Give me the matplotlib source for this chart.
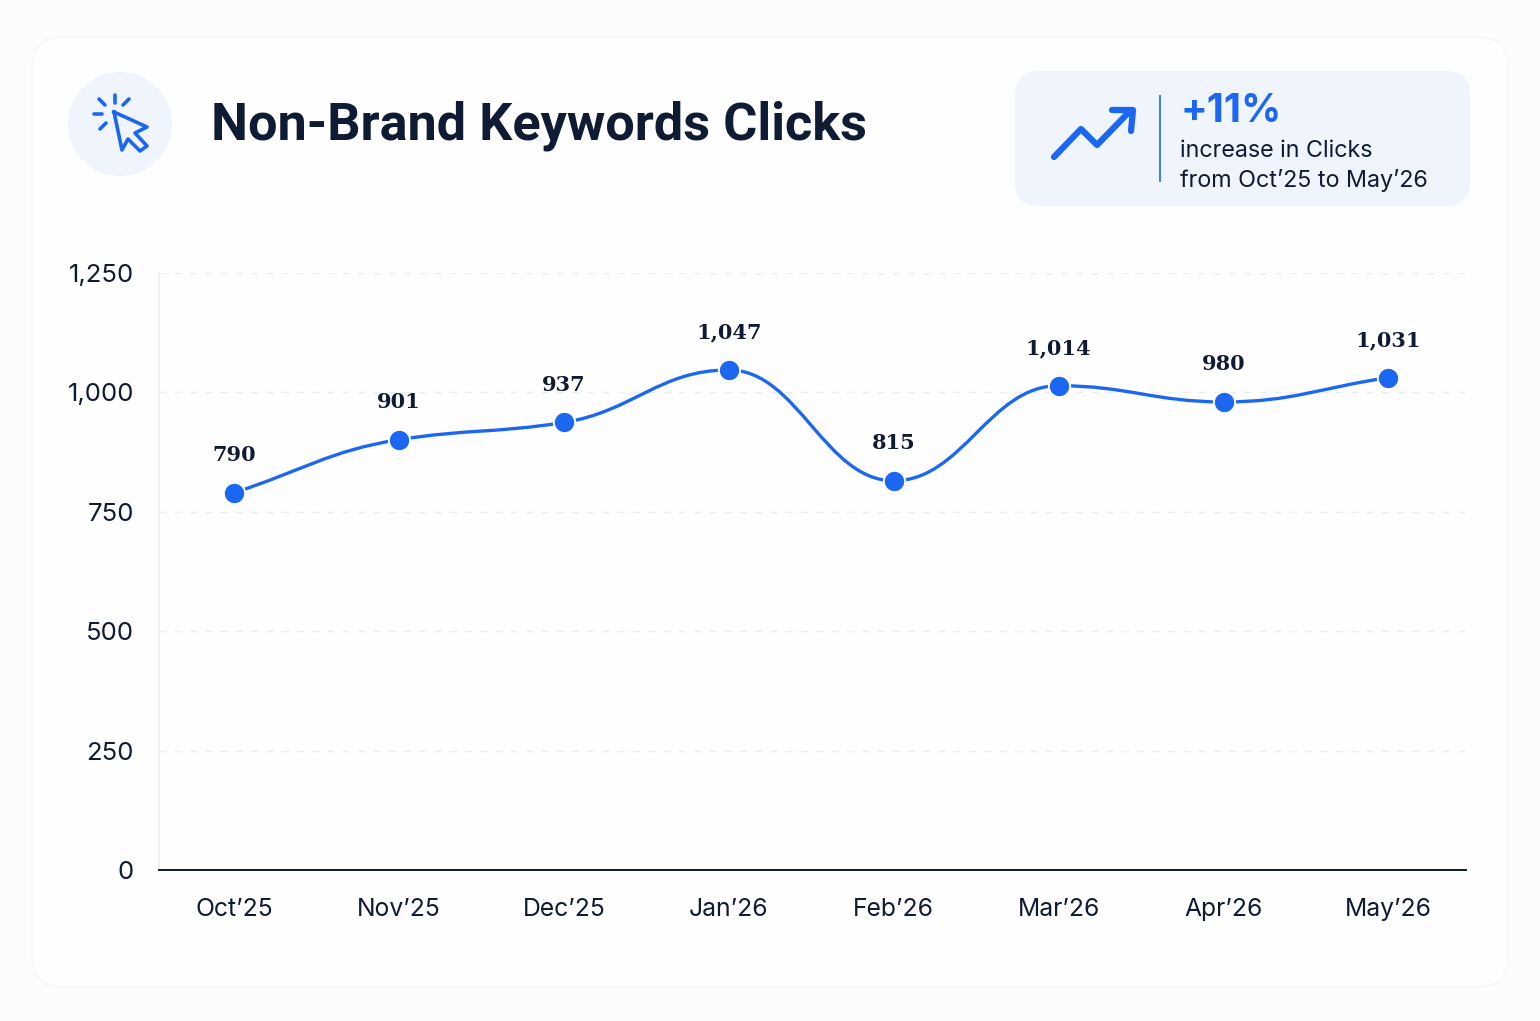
import matplotlib
matplotlib.use("Agg")
import matplotlib.pyplot as plt
import numpy as np
from matplotlib.patches import Circle, FancyBboxPatch, PathPatch
from matplotlib.path import Path

months = ["Oct’25", "Nov’25", "Dec’25", "Jan’26", "Feb’26", "Mar’26", "Apr’26", "May’26"]
clicks = [790, 901, 937, 1047, 815, 1014, 980, 1031]
y_ticks = [0, 250, 500, 750, 1000, 1250]

BLUE = "#1c67f2"
NAVY = "#0f1a33"
PALE = "#f0f4fd"

plt.rcParams["font.family"] = ["Inter", "DejaVu Sans"]


def monotone_path(xs, ys):
    # monotone cubic as bezier segments, flat at every local peak and dip
    xs = np.asarray(xs, dtype=float)
    ys = np.asarray(ys, dtype=float)
    d = np.diff(ys) / np.diff(xs)
    m = np.zeros(len(xs))
    m[0], m[-1] = d[0], d[-1]
    for i in range(1, len(xs) - 1):
        if d[i - 1] * d[i] > 0:
            m[i] = 2 * d[i - 1] * d[i] / (d[i - 1] + d[i])
    verts = [(xs[0], ys[0])]
    codes = [Path.MOVETO]
    for i in range(len(xs) - 1):
        h = (xs[i + 1] - xs[i]) * 0.42
        verts += [(xs[i] + h, ys[i] + m[i] * h),
                  (xs[i + 1] - h, ys[i + 1] - m[i + 1] * h),
                  (xs[i + 1], ys[i + 1])]
        codes += [Path.CURVE4, Path.CURVE4, Path.CURVE4]
    return Path(verts, codes)


fig = plt.figure(figsize=(15.4, 10.21), dpi=100, facecolor="#fcfcfe")

# page layer in pixel units for the card, header and icons
bg = fig.add_axes([0, 0, 1, 1], zorder=0)
bg.set_xlim(0, 1540)
bg.set_ylim(1021, 0)
bg.axis("off")

bg.add_patch(FancyBboxPatch((32, 37), 1476, 950, boxstyle="round,pad=0,rounding_size=30",
                            fc="#fefefe", ec="#f7f8fa", lw=1.5))
bg.add_patch(Circle((120, 124), 52, fc=PALE, ec="none"))
bg.text(211, 126, "Non-Brand Keywords Clicks", fontsize=37.6, fontweight="bold",
        family=["Roboto", "DejaVu Sans"], color=NAVY, va="center", ha="left")

# cursor icon
for seg in [((115, 95), (115, 103)), ((99, 99), (105, 105)), ((129, 99), (123, 105)),
            ((94, 114), (102, 114)), ((100, 129), (106, 123))]:
    bg.plot(*zip(*seg), color=BLUE, lw=2.6, solid_capstyle="round")
cursor = [(114, 112), (147, 127), (135, 133), (147, 146), (140, 151), (128, 139), (122, 150), (114, 112)]
bg.plot(*zip(*cursor), color=BLUE, lw=2.6, solid_joinstyle="round")

# callout box
bg.add_patch(FancyBboxPatch((1015, 71), 455, 135, boxstyle="round,pad=0,rounding_size=24",
                            fc=PALE, ec="none"))
bg.plot([1054, 1081, 1097, 1131], [157, 129, 145, 110], color=BLUE, lw=4.5,
        solid_capstyle="round", solid_joinstyle="round")
bg.plot([1112, 1133, 1131], [110, 110, 131], color=BLUE, lw=4.5,
        solid_capstyle="round", solid_joinstyle="round")
bg.plot([1160, 1160], [96, 181], color=BLUE, lw=1.4, alpha=0.85)
bg.text(1181, 111, "+11%", fontsize=28.5, fontweight="bold", color=BLUE, va="center", ha="left")
bg.text(1180, 151, "increase in Clicks", fontsize=16.8, color=NAVY, va="center", ha="left")
bg.text(1180, 181, "from Oct’25 to May’26", fontsize=16.8, color=NAVY, va="center", ha="left")

# line chart
ax = fig.add_axes([159 / 1540, 1 - 870 / 1021, (1466 - 159) / 1540, (870 - 273) / 1021], zorder=1)
ax.patch.set_alpha(0)
x = np.arange(len(months))
ax.set_xlim(-0.4545, 7.47)
ax.set_ylim(0, 1250)

ax.add_patch(PathPatch(monotone_path(x, clicks), fc="none", ec=BLUE, lw=2.4, zorder=3))
ax.scatter(x, clicks, s=235, color=BLUE, edgecolor="white", linewidth=1.4, zorder=4)

for xi, val in zip(x, clicks):
    ax.annotate(f"{val:,}", (xi, val), xytext=(0, 27), textcoords="offset points",
                ha="center", va="center", fontsize=15, fontweight="bold",
                family=["DejaVu Serif"], color=NAVY)

ax.set_xticks(x, months)
ax.set_yticks(y_ticks, [f"{t:,}" for t in y_ticks])
ax.tick_params(axis="x", length=0, labelsize=17.8, labelcolor=NAVY, pad=20)
ax.tick_params(axis="y", length=0, labelsize=18.5, labelcolor=NAVY, pad=18)
ax.grid(axis="y", color="#e9ecf3", lw=1, linestyle=(0, (5, 6)))
ax.set_axisbelow(True)

for side in ["top", "right"]:
    ax.spines[side].set_visible(False)
ax.spines["left"].set_color("#eceef6")
ax.spines["left"].set_linewidth(1.2)
ax.spines["bottom"].set_color(NAVY)
ax.spines["bottom"].set_linewidth(1.4)

fig.savefig("out.png", dpi=100, facecolor=fig.get_facecolor())
